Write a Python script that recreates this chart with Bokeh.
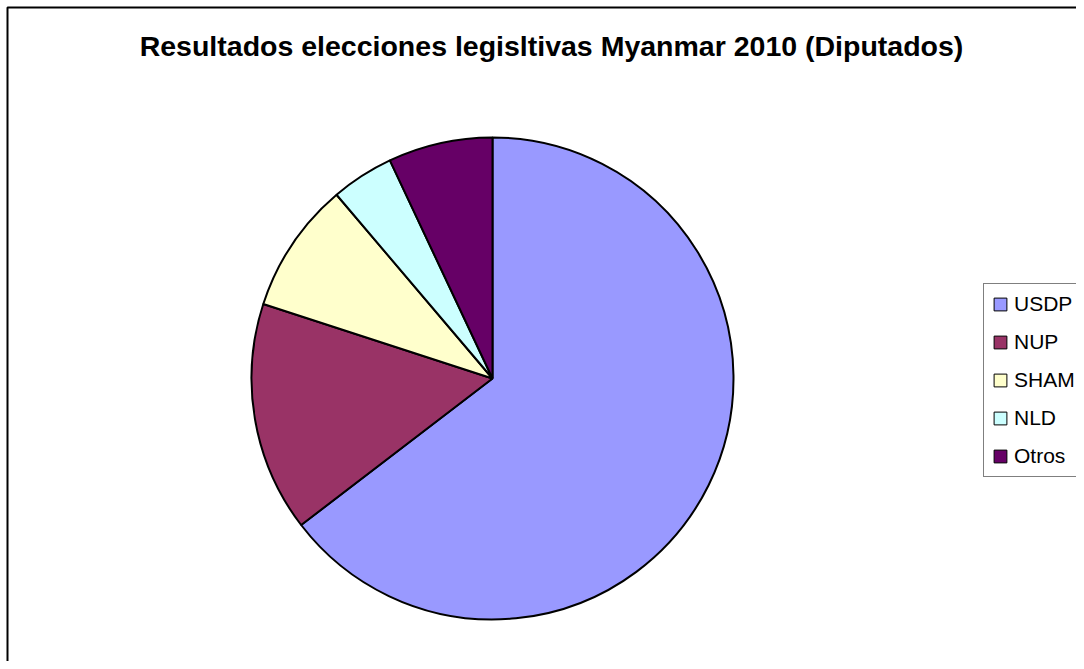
import math
from bokeh.plotting import figure
from bokeh.models import ColumnDataSource, Range1d, Label, Legend, LegendItem, BoxAnnotation
from bokeh.embed import file_html
from bokeh.resources import INLINE

parties = ["USDP", "NUP", "SHAM", "NLD", "Otros"]
shares = [64.6, 15.4, 8.8, 4.2, 7.0]
colors = ["#9999FF", "#993366", "#FFFFCC", "#CCFFFF", "#660066"]
title_text = "Resultados elecciones legisltivas Myanmar 2010 (Diputados)"

total = sum(shares)
starts, ends = [], []
cum = 0.0
for s in shares:
    starts.append(math.pi / 2 - cum / total * 2 * math.pi)
    cum += s
    ends.append(math.pi / 2 - cum / total * 2 * math.pi)

src = ColumnDataSource(dict(party=parties, share=shares, color=colors,
                            start=starts, end=ends,
                            x=[0] * len(parties), y=[0] * len(parties)))

W, H = 1076, 661
CX, CY = 492, 378  # pie centre in canvas pixels (from top-left)
xr = Range1d(-CX, W - CX)
yr = Range1d(-(H - CY), CY)
p = figure(width=W, height=H, output_backend="svg", toolbar_location=None,
           x_range=xr, y_range=yr, min_border=0)
p.axis.visible = False
p.grid.visible = False
p.outline_line_color = None
p.background_fill_color = "white"
p.border_fill_color = "white"

# chart-area border (left / top visible, right / bottom run past the page)
p.add_layout(BoxAnnotation(left=xr.start + 7, top=yr.end - 7,
                           right=xr.end + 200, bottom=yr.start - 200,
                           fill_alpha=0, line_color="black", line_alpha=1.0,
                           line_width=2))

p.wedge(x="x", y="y", radius=241, radius_units="screen",
        start_angle="start", end_angle="end", direction="clock",
        fill_color="color", line_color="black", line_width=2, source=src)

# legend-only renderer (thin outline for the swatches)
leg_r = p.wedge(x="x", y="y", radius=0, radius_units="screen",
                start_angle="start", end_angle="end", direction="clock",
                fill_color="color", line_color="black", line_width=1, source=src)

p.add_layout(Label(x=551, y=H - 45, x_units="screen", y_units="screen",
                   text=title_text, text_align="center", text_baseline="alphabetic",
                   text_font="Liberation Sans", text_font_style="bold",
                   text_font_size="28.5px", text_color="black"))

items = [LegendItem(label=parties[i], renderers=[leg_r], index=i) for i in range(len(parties))]
legend = Legend(items=items, location=(983, H - 477), margin=0, padding=8,
                spacing=14, glyph_width=16, glyph_height=16, label_height=16,
                label_standoff=6, label_text_font="Liberation Sans",
                label_text_font_size="21px", label_text_baseline="middle",
                label_text_color="black",
                border_line_color="black", border_line_width=1,
                background_fill_color="white", background_fill_alpha=1.0)
p.add_layout(legend, "center")

open("out.html", "w").write(file_html(p, INLINE))
